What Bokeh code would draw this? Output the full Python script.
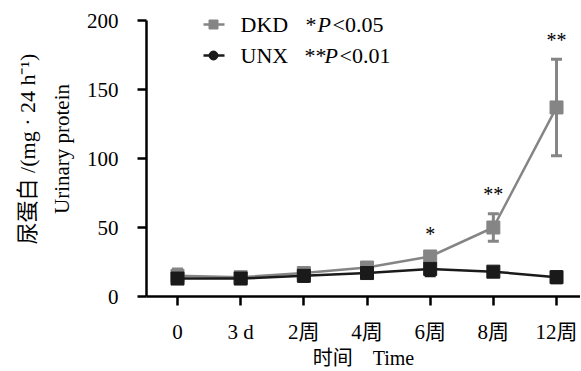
from bokeh.plotting import figure
from bokeh.models import Range1d, FixedTicker, Whisker, TeeHead, ColumnDataSource, LinearAxis
from bokeh.core.properties import value
from bokeh.embed import file_html
from bokeh.resources import INLINE

# ---- data ----
time_labels = ["0", "3 d", "2周", "4周", "6周", "8周", "12周"]
dkd_mean = [15, 14, 17, 21, 29, 50, 137]
dkd_err = [5, 2, 2, 2, 2, 10, 35]
unx_mean = [13, 13, 15, 17, 20, 18, 14]
unx_err = [3, 2, 4, 3, 5, 3, 4]
sig_marks = ["", "", "", "", "*", "**", "**"]
y_ticks = [0, 50, 100, 150, 200]

SERIF = "Liberation Serif, Noto Sans CJK SC"
GRAY = "#858585"
BLACK = "#1a1a1a"

xs = list(range(len(time_labels)))

# pixel -> data helpers (layout only)
X0, XS = 177, 63.17
Y0, YS = 296, 1.38


def dx(px):
    return (px - X0) / XS


def dy(py):
    return (Y0 - py) / YS


p = figure(width=580, height=371, output_backend="svg", toolbar_location=None,
           x_range=Range1d(dx(146), dx(580)), y_range=Range1d(0, dy(1)),
           min_border_left=146, min_border_right=0, min_border_top=1, min_border_bottom=75)
p.grid.visible = False
p.outline_line_color = None
p.background_fill_color = "white"

for ax in (p.xaxis[0], p.yaxis[0]):
    ax.axis_line_width = 2.5
    ax.axis_line_color = "black"
    ax.major_tick_line_width = 2.5
    ax.major_tick_line_color = "black"
    ax.major_tick_out = 9
    ax.major_tick_in = 0
    ax.minor_tick_line_color = None
    ax.major_label_text_font = SERIF
    ax.major_label_text_font_size = "21px"
    ax.major_label_text_color = "black"
    ax.axis_label_text_font = SERIF
    ax.axis_label_text_font_style = "normal"
    ax.axis_label_text_color = "black"

p.yaxis[0].ticker = FixedTicker(ticks=y_ticks)
p.yaxis[0].bounds = (0, 200)
p.yaxis[0].major_label_standoff = 19
p.yaxis[0].axis_label = "Urinary protein"
p.yaxis[0].axis_label_text_font_size = "21px"
p.yaxis[0].axis_label_standoff = 10

p.xaxis[0].ticker = FixedTicker(ticks=xs)
p.xaxis[0].major_label_overrides = {i: t for i, t in enumerate(time_labels)}
p.xaxis[0].major_label_standoff = 14
p.xaxis[0].axis_label = "时间\u00a0\u00a0\u00a0\u00a0Time"
p.xaxis[0].axis_label_text_font_size = "20px"
p.xaxis[0].axis_label_standoff = 0

# second (outer) y title line
ax2 = LinearAxis(ticker=FixedTicker(ticks=[]), axis_line_color=None,
                 major_tick_line_color=None, minor_tick_line_color=None,
                 major_label_text_font_size="0px",
                 axis_label="尿蛋白 /(mg · 24 h⁻¹)", axis_label_text_font=SERIF,
                 axis_label_text_font_size="22px", axis_label_text_font_style="normal",
                 axis_label_text_color="black", axis_label_standoff=7)
p.add_layout(ax2, "left")

# series
dkd_src = ColumnDataSource(dict(x=xs, y=dkd_mean,
                                lo=[m - e for m, e in zip(dkd_mean, dkd_err)],
                                hi=[m + e for m, e in zip(dkd_mean, dkd_err)]))
unx_src = ColumnDataSource(dict(x=xs, y=unx_mean,
                                lo=[m - e for m, e in zip(unx_mean, unx_err)],
                                hi=[m + e for m, e in zip(unx_mean, unx_err)]))

for src, col in ((dkd_src, GRAY), (unx_src, BLACK)):
    w = Whisker(base="x", lower="lo", upper="hi", source=src, dimension="height",
                line_color=col, line_width=3,
                lower_head=TeeHead(size=11, line_color=col, line_width=3),
                upper_head=TeeHead(size=11, line_color=col, line_width=3))
    p.add_layout(w)
    p.line("x", "y", source=src, line_color=col, line_width=2.5)
    p.scatter("x", "y", source=src, marker="square", size=13, fill_color=col, line_color=col)

# significance marks
sig_y = [m + e + 14 for m, e in zip(dkd_mean, dkd_err)]
p.text(x=xs, y=sig_y, text=sig_marks, text_align="center", text_baseline="middle",
       text_font=value("Liberation Serif"), text_font_size="20px", text_color="black")

# legend (drawn manually)
FONT = value("Liberation Serif")
for row_y, col, mk, name, stars, thr, star_x, p_x, lt_x in (
        (24, GRAY, "square", "DKD", "*", "<0.05", 305, 317, 332),
        (55, BLACK, "circle", "UNX", "**", "<0.01", 304, 324, 339)):
    p.line([dx(203), dx(224)], [dy(row_y), dy(row_y)], line_color=col, line_width=2.5)
    p.scatter([dx(213)], [dy(row_y)], marker=mk, size=9, fill_color=col, line_color=col)
    p.text(x=[dx(240)], y=[dy(row_y)], text=[name], text_baseline="middle",
           text_font=FONT, text_font_size="22px", text_color="black")
    p.text(x=[dx(star_x)], y=[dy(row_y)], text=[stars], text_baseline="middle",
           text_font=FONT, text_font_size="22px", text_color="black")
    p.text(x=[dx(p_x)], y=[dy(row_y)], text=["P"], text_baseline="middle",
           text_font=FONT, text_font_style="italic", text_font_size="22px", text_color="black")
    p.text(x=[dx(lt_x)], y=[dy(row_y)], text=[thr], text_baseline="middle",
           text_font=FONT, text_font_size="22px", text_color="black")

open("out.html", "w").write(file_html(p, INLINE))
